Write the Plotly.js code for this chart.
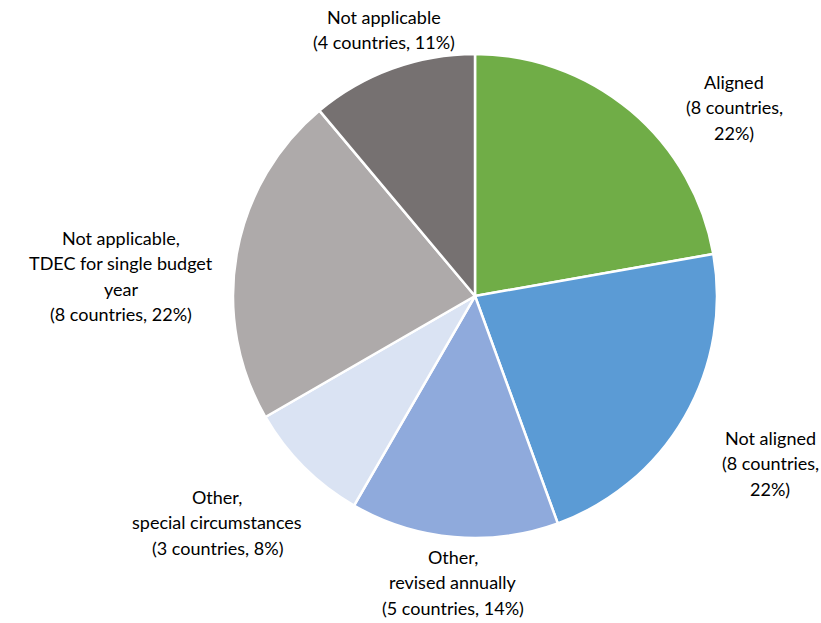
<!DOCTYPE html>
<html>
<head>
<meta charset="utf-8">
<script src="https://cdn.plot.ly/plotly-3.0.1.min.js"></script>
<style>html,body{margin:0;padding:0;background:#fff;}#chart{width:821px;height:623px;}</style>
</head>
<body>
<div id="chart"></div>
<script>
const categories = ["Aligned", "Not aligned", "Other, revised annually", "Other, special circumstances", "Not applicable, TDEC for single budget year", "Not applicable"];
const countries = [8, 8, 5, 3, 8, 4];
const percents = [22, 22, 14, 8, 22, 11];
const labelLines = [
  ["Aligned", "(8 countries,", "22%)"],
  ["Not aligned", "(8 countries,", "22%)"],
  ["Other,", "revised annually", "(5 countries, 14%)"],
  ["Other,", "special circumstances", "(3 countries, 8%)"],
  ["Not applicable,", "TDEC for single budget", "year", "(8 countries, 22%)"],
  ["Not applicable", "(4 countries, 11%)"]
];
const colors = ["#70AD47", "#5B9BD5", "#8FAADC", "#DAE3F3", "#AEAAAA", "#767171"];

// label block positions in pixels: centre x, y of first line
const labelPos = [[734, 82], [770, 438], [453, 557], [217, 497], [121, 238], [384, 17]];
const lineGap = 25.3;
const W = 821, H = 623;

const annotations = [];
labelLines.forEach((lines, i) => {
  lines.forEach((t, j) => {
    annotations.push({
      text: t,
      x: labelPos[i][0] / W,
      y: 1 - (labelPos[i][1] + j * lineGap) / H,
      xref: "paper", yref: "paper",
      xanchor: "center", yanchor: "middle",
      showarrow: false,
      font: {family: "Lato, 'Open Sans', sans-serif", size: 18, color: "#000"}
    });
  });
});

const cx = 475, cy = 296, r = 242;
const data = [{
  type: "pie",
  labels: categories,
  values: countries,
  sort: false,
  direction: "clockwise",
  rotation: 0,
  textinfo: "none",
  hoverinfo: "label+value",
  marker: {colors: colors, line: {color: "#ffffff", width: 2.5}},
  domain: {x: [(cx - r) / W, (cx + r) / W], y: [1 - (cy + r) / H, 1 - (cy - r) / H]}
}];

const layout = {
  width: W, height: H,
  margin: {l: 0, r: 0, t: 0, b: 0},
  showlegend: false,
  paper_bgcolor: "#ffffff",
  annotations: annotations
};

Plotly.newPlot("chart", data, layout, {displayModeBar: false, staticPlot: true});
</script>
</body>
</html>
